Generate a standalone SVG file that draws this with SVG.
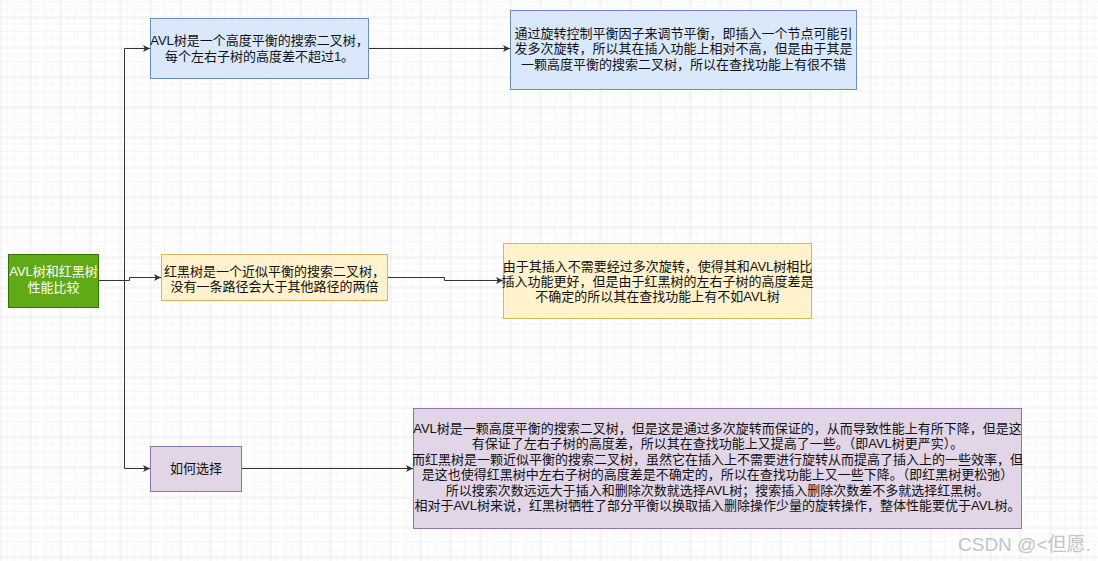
<svg xmlns="http://www.w3.org/2000/svg" width="1098" height="561" viewBox="0 0 1098 561">
<defs>
<pattern id="minor" width="7.5" height="7.5" patternUnits="userSpaceOnUse" x="0" y="2">
<path d="M7.5,0 V7.5 M0,7.5 H7.5" fill="none" stroke="#f0f0f0" stroke-width="1"/>
</pattern>
<pattern id="major" width="30" height="30" patternUnits="userSpaceOnUse" x="0.5" y="17.5">
<path d="M0,0 V30 M0,0 H30" fill="none" stroke="#dcdcdc" stroke-width="1"/>
</pattern>
<marker id="arr" viewBox="0 0 8 8" refX="8" refY="4" markerWidth="7" markerHeight="7" markerUnits="userSpaceOnUse" orient="auto">
<path d="M0,0 L8,4 L0,8 L2,4 Z" fill="#333333"/>
</marker>
</defs>
<style>
.t{font-family:"Liberation Sans","Noto Sans CJK SC",sans-serif;font-size:13px;fill:#111111;text-anchor:middle}
.w{fill:#ffffff}
.edge{fill:none;stroke:#333333;stroke-width:1;marker-end:url(#arr)}
.blue{fill:#dae8fc;stroke:#6c8ebf}
.yel{fill:#fff2cc;stroke:#d6b656}
.pur{fill:#e1d5e7;stroke:#9673a6}
.grn{fill:#60a917;stroke:#2d7600}
</style>
<rect width="1098" height="561" fill="#ffffff"/>
<rect width="1098" height="561" fill="url(#minor)"/>
<rect width="1098" height="561" fill="url(#major)"/>

<g id="connectors">
<path class="edge" d="M99,280.5 H124.5 V48.5 H150"/>
<path class="edge" d="M99,280.5 H124.5 V468.5 H150"/>
<path class="edge" d="M99,280.5 H129.5 V277.5 H161"/>
<path class="edge" d="M368,48.5 H510"/>
<path class="edge" d="M387,277.5 H444.5 V280.5 H503"/>
<path class="edge" d="M241,468.5 H413"/>
</g>

<g id="root">
<rect class="grn" x="8.5" y="254.5" width="90" height="53"/>
<text class="t w"><tspan x="53.5" y="276">AVL树和红黑树</tspan><tspan x="53.5" y="292">性能比较</tspan></text>
</g>

<g id="avl">
<rect class="blue" x="150.5" y="18.5" width="218" height="60"/>
<text class="t"><tspan x="259.5" y="44.5">AVL树是一个高度平衡的搜索二叉树，</tspan><tspan x="259.5" y="61">每个左右子树的高度差不超过1。</tspan></text>
</g>

<g id="avl-detail">
<rect class="blue" x="510.5" y="10.5" width="346" height="79"/>
<text class="t"><tspan x="683.5" y="37.5">通过旋转控制平衡因子来调节平衡，即插入一个节点可能引</tspan><tspan x="683.5" y="53">发多次旋转，所以其在插入功能上相对不高，但是由于其是</tspan><tspan x="683.5" y="68.5">一颗高度平衡的搜索二叉树，所以在查找功能上有很不错</tspan></text>
</g>

<g id="rbt">
<rect class="yel" x="161.5" y="254.5" width="226" height="46"/>
<text class="t"><tspan x="274.5" y="275.5">红黑树是一个近似平衡的搜索二叉树，</tspan><tspan x="274.5" y="290.5">没有一条路径会大于其他路径的两倍</tspan></text>
</g>

<g id="rbt-detail">
<rect class="yel" x="503.5" y="243.5" width="308" height="75"/>
<text class="t"><tspan x="657.5" y="271">由于其插入不需要经过多次旋转，使得其和AVL树相比</tspan><tspan x="657.5" y="286">插入功能更好，但是由于红黑树的左右子树的高度差是</tspan><tspan x="657.5" y="301">不确定的所以其在查找功能上有不如AVL树</tspan></text>
</g>

<g id="choose">
<rect class="pur" x="150.5" y="446.5" width="91" height="45"/>
<text class="t" x="196" y="473">如何选择</text>
</g>

<g id="choose-detail">
<rect class="pur" x="413.5" y="408.5" width="608" height="120"/>
<text class="t"><tspan x="717.5" y="432.5">AVL树是一颗高度平衡的搜索二叉树，但是这是通过多次旋转而保证的，从而导致性能上有所下降，但是这</tspan><tspan x="717.5" y="448">有保证了左右子树的高度差，所以其在查找功能上又提高了一些。（即AVL树更严实）。</tspan><tspan x="717.5" y="463.6">而红黑树是一颗近似平衡的搜索二叉树，虽然它在插入上不需要进行旋转从而提高了插入上的一些效率，但</tspan><tspan x="717.5" y="479.2">是这也使得红黑树中左右子树的高度差是不确定的，所以在查找功能上又一些下降。（即红黑树更松弛）</tspan><tspan x="717.5" y="494.8">所以搜索次数远远大于插入和删除次数就选择AVL树；搜索插入删除次数差不多就选择红黑树。</tspan><tspan x="717.5" y="510.4">相对于AVL树来说，红黑树牺牲了部分平衡以换取插入删除操作少量的旋转操作，整体性能要优于AVL树。</tspan></text>
</g>

<text x="958" y="551" style="font-family:'Liberation Sans','Noto Sans CJK SC',sans-serif;font-size:19px;fill:#c4c4c4">CSDN @&lt;但愿.</text>
</svg>
